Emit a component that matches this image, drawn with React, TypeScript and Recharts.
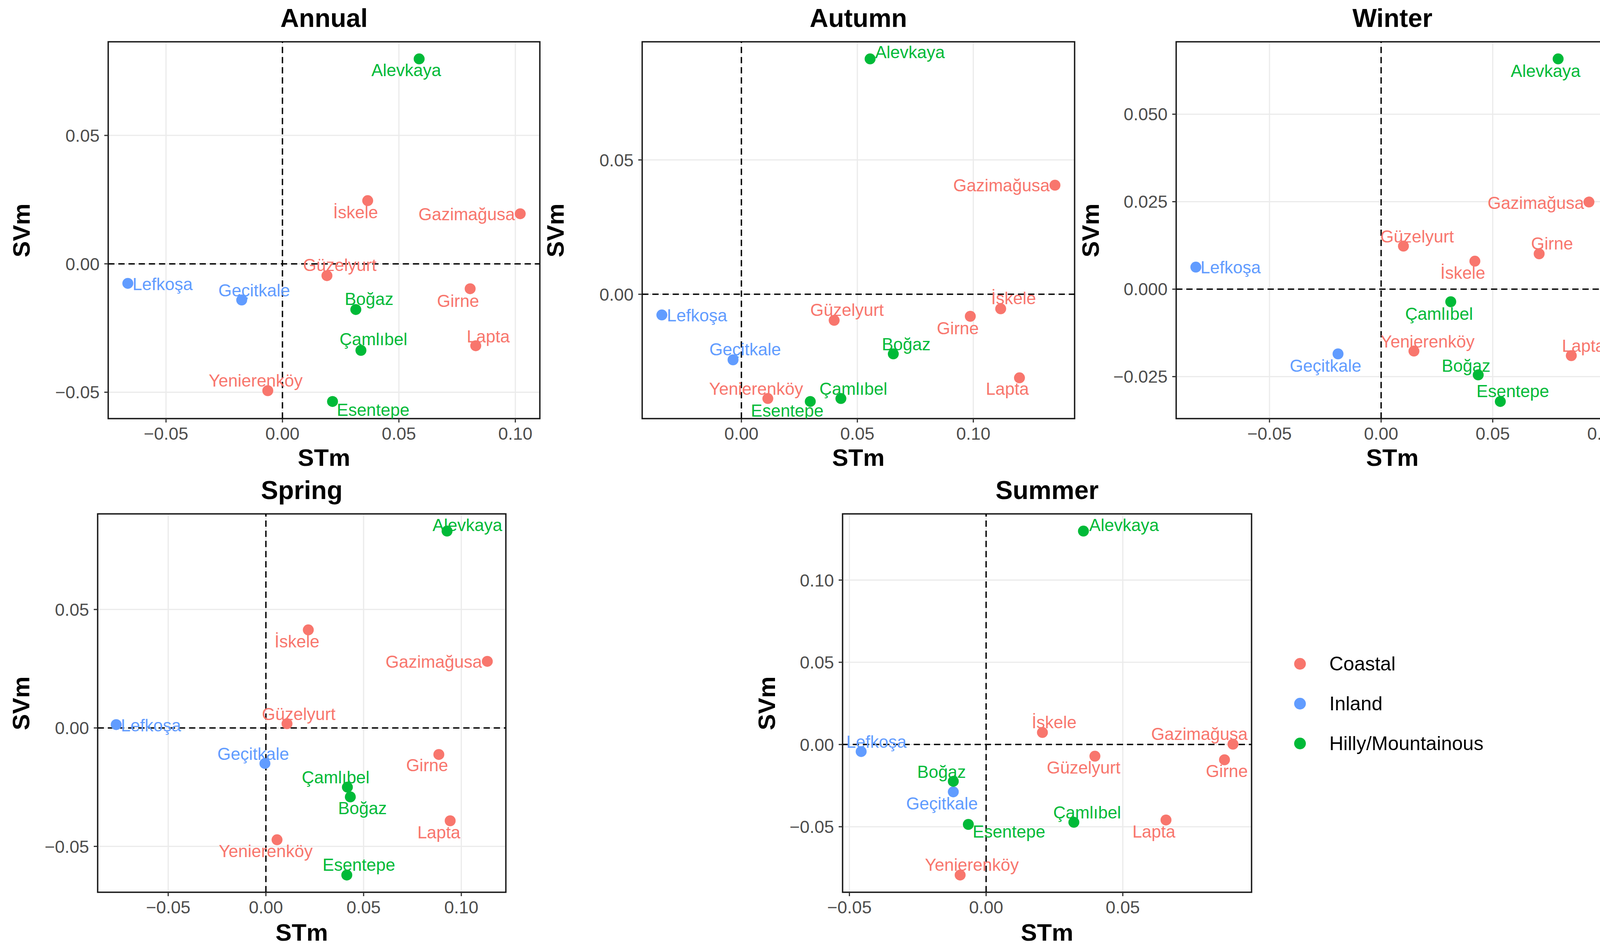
import React from 'react';
import {
  ScatterChart,
  Scatter,
  XAxis,
  YAxis,
  CartesianGrid,
  ReferenceLine,
  ReferenceArea
} from 'recharts';

// sites, in the same order as every value array below
const SITES = [
  'Alevkaya', 'İskele', 'Gazimağusa', 'Güzelyurt', 'Lefkoşa', 'Geçitkale',
  'Boğaz', 'Girne', 'Çamlıbel', 'Lapta', 'Yenierenköy', 'Esentepe'
];
const SITE_TYPE = [
  'Hilly/Mountainous', 'Coastal', 'Coastal', 'Coastal', 'Inland', 'Inland',
  'Hilly/Mountainous', 'Coastal', 'Hilly/Mountainous', 'Coastal', 'Coastal', 'Hilly/Mountainous'
];
const TYPES = ['Coastal', 'Inland', 'Hilly/Mountainous'];

const ANNUAL_STM = [0.0587, 0.0366, 0.1021, 0.0191, -0.0664, -0.0175, 0.0315, 0.0806, 0.0337, 0.0830, -0.0063, 0.0215];
const ANNUAL_SVM = [0.0798, 0.0246, 0.0195, -0.0046, -0.0076, -0.0141, -0.0178, -0.0097, -0.0337, -0.0319, -0.0494, -0.0536];

const AUTUMN_STM = [0.0555, 0.1118, 0.1352, 0.0400, -0.0343, -0.0036, 0.0655, 0.0987, 0.0429, 0.1199, 0.0114, 0.0297];
const AUTUMN_SVM = [0.0876, -0.0054, 0.0406, -0.0097, -0.0077, -0.0244, -0.0222, -0.0082, -0.0388, -0.0311, -0.0388, -0.0399];

const WINTER_STM = [0.0793, 0.0420, 0.0931, 0.0100, -0.0830, -0.0193, 0.0435, 0.0708, 0.0312, 0.0852, 0.0147, 0.0534];
const WINTER_SVM = [0.0658, 0.0080, 0.0249, 0.0123, 0.0063, -0.0185, -0.0245, 0.0101, -0.0036, -0.0190, -0.0177, -0.0321];

const SPRING_STM = [0.0927, 0.0217, 0.1133, 0.0108, -0.0766, -0.0005, 0.0432, 0.0885, 0.0417, 0.0943, 0.0057, 0.0414];
const SPRING_SVM = [0.0831, 0.0414, 0.0281, 0.0018, 0.0014, -0.0150, -0.0291, -0.0112, -0.0250, -0.0392, -0.0472, -0.0621];

const SUMMER_STM = [0.0356, 0.0206, 0.0903, 0.0398, -0.0457, -0.0120, -0.0120, 0.0872, 0.0321, 0.0658, -0.0095, -0.0065];
const SUMMER_SVM = [0.1298, 0.0073, 0.0002, -0.0071, -0.0043, -0.0288, -0.0224, -0.0093, -0.0473, -0.0459, -0.0794, -0.0486];

// tick values
const ANNUAL_X_TICKS = [-0.05, 0, 0.05, 0.1];
const ANNUAL_Y_TICKS = [-0.05, 0, 0.05];
const AUTUMN_X_TICKS = [0, 0.05, 0.1];
const AUTUMN_Y_TICKS = [0, 0.05];
const WINTER_X_TICKS = [-0.05, 0, 0.05, 0.1];
const WINTER_Y_TICKS = [-0.025, 0, 0.025, 0.05];
const SPRING_X_TICKS = [-0.05, 0, 0.05, 0.1];
const SPRING_Y_TICKS = [-0.05, 0, 0.05];
const SUMMER_X_TICKS = [-0.05, 0, 0.05];
const SUMMER_Y_TICKS = [-0.05, 0, 0.05, 0.1];

// label offsets from each point (px), like ggrepel placed them
const ANNUAL_LABEL_POS = [[-33, 29], [-31, 30], [-137, 1], [33, -27], [89, 2], [32, -25], [34, -27], [-31, 31], [32, -29], [32, -24], [-31, -26], [104, 21]];
const AUTUMN_LABEL_POS = [[102, -17], [33, -27], [-137, 0], [33, -27], [90, 1], [31, -27], [33, -25], [-32, 30], [32, -25], [-31, 28], [-30, -25], [-59, 23]];
const WINTER_LABEL_POS = [[-32, 31], [-31, 30], [-136, 2], [35, -25], [89, 0], [-32, 30], [-31, -24], [33, -26], [-30, 31], [31, -25], [35, -25], [32, -27]];
const SPRING_LABEL_POS = [[52, -16], [-29, 29], [-137, 1], [30, -25], [89, 2], [-30, -25], [31, 29], [-30, 27], [-30, -25], [-29, 29], [-29, 29], [31, -26]];
const SUMMER_LABEL_POS = [[104, -16], [30, -26], [-86, -26], [-29, 29], [39, -25], [-29, 30], [-30, -24], [6, 29], [34, -25], [-31, 30], [30, -26], [104, 18]];

const COLORS: { [key: string]: string } = {
  Coastal: '#F8766D',
  Inland: '#619CFF',
  'Hilly/Mountainous': '#00BA38'
};

const FONT = '"Liberation Sans", Arial, Helvetica, sans-serif';

const PANELS = [
  { title: 'Annual', stm: ANNUAL_STM, svm: ANNUAL_SVM, xTicks: ANNUAL_X_TICKS, yTicks: ANNUAL_Y_TICKS, yDigits: 2, labels: ANNUAL_LABEL_POS,
    box: { left: 277, top: 107, right: 1382, bottom: 1072 }, titleY: 46, xlabY: 1172, ylabGap: 222 },
  { title: 'Autumn', stm: AUTUMN_STM, svm: AUTUMN_SVM, xTicks: AUTUMN_X_TICKS, yTicks: AUTUMN_Y_TICKS, yDigits: 2, labels: AUTUMN_LABEL_POS,
    box: { left: 1644, top: 107, right: 2751, bottom: 1072 }, titleY: 46, xlabY: 1172, ylabGap: 222 },
  { title: 'Winter', stm: WINTER_STM, svm: WINTER_SVM, xTicks: WINTER_X_TICKS, yTicks: WINTER_Y_TICKS, yDigits: 3, labels: WINTER_LABEL_POS,
    box: { left: 3011, top: 107, right: 4118, bottom: 1072 }, titleY: 46, xlabY: 1172, ylabGap: 219, clipRight: 4125 },
  { title: 'Spring', stm: SPRING_STM, svm: SPRING_SVM, xTicks: SPRING_X_TICKS, yTicks: SPRING_Y_TICKS, yDigits: 2, labels: SPRING_LABEL_POS,
    box: { left: 250, top: 1316, right: 1295, bottom: 2285 }, titleY: 1255, xlabY: 2388, ylabGap: 196 },
  { title: 'Summer', stm: SUMMER_STM, svm: SUMMER_SVM, xTicks: SUMMER_X_TICKS, yTicks: SUMMER_Y_TICKS, yDigits: 2, labels: SUMMER_LABEL_POS,
    box: { left: 2157, top: 1316, right: 3204, bottom: 2285 }, titleY: 1255, xlabY: 2388, ylabGap: 194 }
];

// ggplot-style 5% expansion of the data range
const expand = (vals: number[]): [number, number] => {
  const lo = Math.min(...vals);
  const hi = Math.max(...vals);
  const pad = (hi - lo) * 0.05;
  return [lo - pad, hi + pad];
};

const fmt = (digits: number) => (v: number) => {
  const s = Math.abs(v).toFixed(digits);
  return v < -1e-9 ? '\u2212' + s : s;
};

const ML = 240;
const MT = 12;
const MR = 40;
const MB = 150;

function Panel({ p }: { p: any }) {
  const w = p.box.right - p.box.left;
  const h = p.box.bottom - p.box.top;
  const xDom = expand(p.stm);
  const yDom = expand(p.svm);
  const chartW = w + ML + MR;
  const chartLeft = p.box.left - ML;

  const rows = SITES.map((name, i) => ({
    name,
    type: SITE_TYPE[i],
    x: p.stm[i],
    y: p.svm[i],
    dx: p.labels[i][0],
    dy: p.labels[i][1]
  }));

  const shape = (color: string) => (props: any) => {
    const { cx, cy, payload } = props;
    return (
      <g>
        <circle cx={cx} cy={cy} r={14} fill={color} />
        <text
          x={cx + payload.dx}
          y={cy + payload.dy}
          textAnchor="middle"
          dominantBaseline="central"
          fontSize={44}
          fontFamily={FONT}
          fill={color}
        >
          {payload.name}
        </text>
      </g>
    );
  };

  return (
    <>
      <div style={{
        position: 'absolute', left: p.box.left, width: w, top: p.titleY - 42,
        lineHeight: '84px', textAlign: 'center', fontWeight: 'bold', fontSize: 66, fontFamily: FONT, color: '#000'
      }}>
        {p.title}
      </div>
      <div style={{
        position: 'absolute', left: chartLeft, top: p.box.top - MT,
        width: p.clipRight ? p.clipRight - chartLeft : chartW, overflow: 'hidden'
      }}>
        <ScatterChart
          width={chartW}
          height={h + MT + MB}
          margin={{ top: MT, right: MR, bottom: 0, left: 0 }}
        >
          <CartesianGrid stroke="#ebebeb" strokeWidth={3} />
          <XAxis
            type="number"
            dataKey="x"
            domain={xDom}
            ticks={p.xTicks}
            allowDataOverflow
            interval={0}
            height={MB}
            tickSize={10}
            tickMargin={12}
            axisLine={false}
            tickLine={{ stroke: '#333333', strokeWidth: 3 }}
            tick={{ fill: '#4d4d4d', fontSize: 45, fontFamily: FONT }}
            tickFormatter={fmt(2)}
          />
          <YAxis
            type="number"
            dataKey="y"
            domain={yDom}
            ticks={p.yTicks}
            allowDataOverflow
            interval={0}
            width={ML}
            tickSize={10}
            tickMargin={12}
            axisLine={false}
            tickLine={{ stroke: '#333333', strokeWidth: 3 }}
            tick={{ fill: '#4d4d4d', fontSize: 45, fontFamily: FONT }}
            tickFormatter={fmt(p.yDigits)}
          />
          <ReferenceLine x={0} stroke="#000" strokeWidth={3.5} strokeDasharray="16 10" />
          <ReferenceLine y={0} stroke="#000" strokeWidth={3.5} strokeDasharray="16 10" />
          {TYPES.map(t => (
            <Scatter
              key={t}
              name={t}
              data={rows.filter(r => r.type === t)}
              fill={COLORS[t]}
              shape={shape(COLORS[t])}
              isAnimationActive={false}
            />
          ))}
          <ReferenceArea
            x1={xDom[0]}
            x2={xDom[1]}
            y1={yDom[0]}
            y2={yDom[1]}
            fill="none"
            fillOpacity={0}
            stroke="#1a1a1a"
            strokeWidth={3.5}
            ifOverflow="visible"
          />
        </ScatterChart>
      </div>
      <div style={{
        position: 'absolute', left: p.box.left, width: w, top: p.xlabY - 38,
        lineHeight: '76px', textAlign: 'center', fontWeight: 'bold', fontSize: 62, fontFamily: FONT, color: '#000'
      }}>
        STm
      </div>
      <div style={{
        position: 'absolute', left: p.box.left - p.ylabGap, top: (p.box.top + p.box.bottom) / 2,
        transform: 'translate(-50%, -50%) rotate(-90deg)', whiteSpace: 'nowrap',
        lineHeight: '76px', fontWeight: 'bold', fontSize: 62, fontFamily: FONT, color: '#000'
      }}>
        SVm
      </div>
    </>
  );
}

export default function App() {
  return (
    <div style={{
      position: 'absolute', left: 0, top: 0, width: 4152, height: 2438,
      overflow: 'hidden', background: '#fff', fontFamily: FONT
    }}>
      {PANELS.map(p => <Panel key={p.title} p={p} />)}
      {TYPES.map((t, i) => (
        <div key={t} style={{ position: 'absolute', left: 3313, top: 1700 + i * 102 - 35, height: 70, display: 'flex', alignItems: 'center' }}>
          <div style={{ width: 30, height: 30, borderRadius: '50%', background: COLORS[t] }} />
          <span style={{ marginLeft: 60, fontSize: 50, fontFamily: FONT, color: '#000' }}>{t}</span>
        </div>
      ))}
    </div>
  );
}
